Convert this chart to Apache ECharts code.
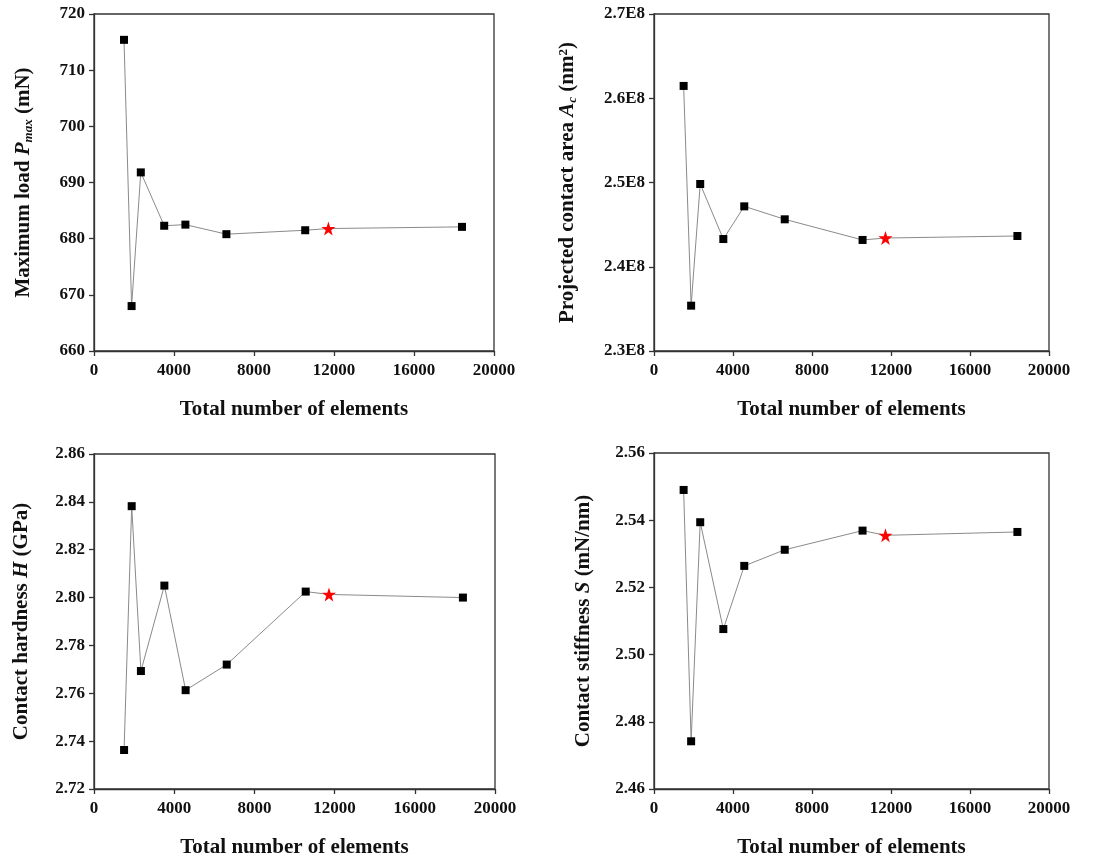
<!DOCTYPE html>
<html>
<head>
<meta charset="utf-8">
<script src="https://cdn.jsdelivr.net/npm/echarts@6/dist/echarts.min.js"></script>
<style>html,body{margin:0;padding:0;background:#fff}#c{width:1097px;height:859px}</style>
</head>
<body>
<div id="c"></div>
<script>
// Total number of elements (x), shared by all panels
var elements = [1500, 1880, 2340, 3510, 4570, 6620, 10560, 11720, 18400];
// index of the selected mesh (red star)
var starIndex = 7;
var xTicks = [0, 4000, 8000, 12000, 16000, 20000];

var maxLoad = [715.4, 668.0, 691.8, 682.3, 682.5, 680.8, 681.5, 681.8, 682.1];
var contactArea = [2.6146e8, 2.3538e8, 2.4982e8, 2.4329e8, 2.4717e8, 2.4563e8, 2.4318e8, 2.4341e8, 2.4365e8];
var hardness = [2.7363, 2.8382, 2.7693, 2.8050, 2.7613, 2.7720, 2.8025, 2.8013, 2.8000];
var stiffness = [2.5490, 2.4742, 2.5394, 2.5076, 2.5264, 2.5312, 2.5369, 2.5355, 2.5365];

var FONT = '"Liberation Serif", "Times New Roman", serif';

function pts(vals) {
  return vals.map(function (v, i) {
    var p = { value: [elements[i], v] };
    if (i === starIndex) {
      p.symbol = 'path://M50,0 L61.8,35.1 L98.9,35.1 L68.9,56.9 L80.3,92.1 L50,70.3 L19.7,92.1 L31.1,56.9 L1.1,35.1 L38.2,35.1 Z';
      p.symbolSize = 14;
      p.itemStyle = { color: '#ff0000' };
    }
    return p;
  });
}

var grids = [
  { left: 94, top: 14, width: 400, height: 337 },
  { left: 654, top: 14, width: 395, height: 337 },
  { left: 94, top: 454, width: 401, height: 338 },
  { left: 654, top: 453, width: 395, height: 336 }
];

var axisLineStyle = { color: '#333', width: 1.3 };
var tickLabel = { fontFamily: FONT, fontWeight: 'bold', fontSize: 17, color: '#111' };

function xAxis(gi) {
  return {
    gridIndex: gi, type: 'value', min: xTicks[0], max: xTicks[xTicks.length - 1], interval: xTicks[1] - xTicks[0],
    name: 'Total number of elements', nameLocation: 'middle', nameGap: 48,
    nameTextStyle: { fontFamily: FONT, fontWeight: 'bold', fontSize: 21, color: '#111' },
    axisLine: { show: true, lineStyle: axisLineStyle },
    axisTick: { show: true, inside: false, length: 5, lineStyle: axisLineStyle },
    axisLabel: Object.assign({ margin: 11, formatter: function (v) { return String(v); } }, tickLabel),
    splitLine: { show: false }
  };
}

var nameRich = {
  n: { fontFamily: FONT, fontWeight: 'bold', fontSize: 21, color: '#111' },
  i: { fontFamily: FONT, fontWeight: 'bold', fontStyle: 'italic', fontSize: 21, color: '#111' },
  sub: { fontFamily: FONT, fontWeight: 'bold', fontStyle: 'italic', fontSize: 13, color: '#111', verticalAlign: 'bottom', padding: [9, 0, 0, 0] },
  sup: { fontFamily: FONT, fontWeight: 'bold', fontSize: 13, color: '#111', verticalAlign: 'top', padding: [0, 0, 9, 0] }
};

function yAxis(gi, min, max, interval, name, gap, fmt) {
  return {
    gridIndex: gi, type: 'value', min: min, max: max, interval: interval,
    name: name, nameLocation: 'middle', nameGap: gap, nameRotate: 90,
    nameTextStyle: { rich: nameRich, fontFamily: FONT, fontWeight: 'bold', fontSize: 21, color: '#111' },
    axisLine: { show: true, lineStyle: axisLineStyle },
    axisTick: { show: true, inside: false, length: 5, lineStyle: axisLineStyle },
    axisLabel: Object.assign({ margin: 9, formatter: fmt }, tickLabel),
    splitLine: { show: false }
  };
}

function series(gi, vals) {
  return {
    type: 'line', xAxisIndex: gi, yAxisIndex: gi,
    data: pts(vals),
    symbol: 'rect', symbolSize: 8, showAllSymbol: true,
    lineStyle: { color: '#8a8a8a', width: 1 },
    itemStyle: { color: '#000' },
    emphasis: { disabled: true },
    animation: false, z: 3
  };
}

var chart = echarts.init(document.getElementById('c'), null, { renderer: 'canvas' });
chart.setOption({
  backgroundColor: '#fff',
  animation: false,
  grid: grids.map(function (g) {
    return Object.assign({ show: true, borderColor: '#333', borderWidth: 1.3, backgroundColor: 'transparent', containLabel: false }, g);
  }),
  xAxis: [xAxis(0), xAxis(1), xAxis(2), xAxis(3)],
  yAxis: [
    yAxis(0, 660, 720, 10, '{n|Maximum load }{i|P}{sub|max}{n| (mN)}', 59, function (v) { return v.toFixed(0); }),
    yAxis(1, 2.3e8, 2.7e8, 0.1e8, '{n|Projected contact area }{i|A}{sub|c}{n| (nm}{sup|2}{n|)}', 75, function (v) { return (v / 1e8).toFixed(1) + 'E8'; }),
    yAxis(2, 2.72, 2.86, 0.02, '{n|Contact hardness }{i|H}{n| (GPa)}', 62, function (v) { return v.toFixed(2); }),
    yAxis(3, 2.46, 2.56, 0.02, '{n|Contact stiffness }{i|S}{n| (mN/nm)}', 60, function (v) { return v.toFixed(2); })
  ],
  series: [
    series(0, maxLoad),
    series(1, contactArea),
    series(2, hardness),
    series(3, stiffness)
  ]
});
</script>
</body>
</html>
